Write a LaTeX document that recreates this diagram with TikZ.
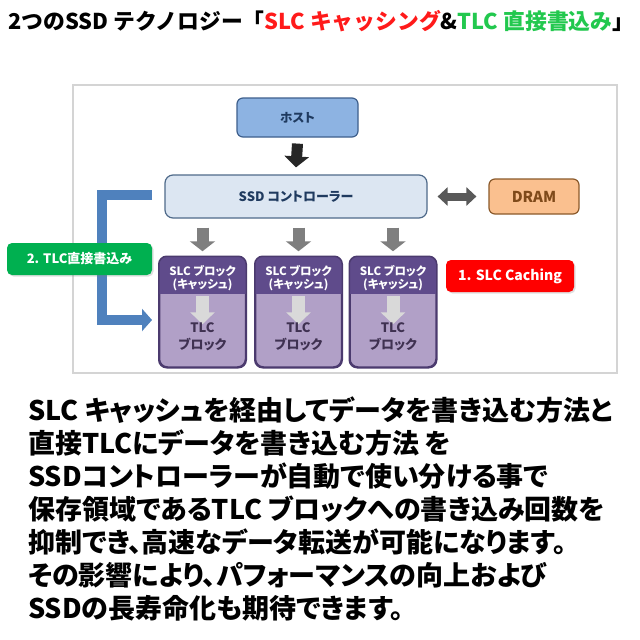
\documentclass[tikz,border=0pt]{standalone}
\usepackage{fontspec}
\newfontfamily\jp{Noto Sans CJK JP}[RawFeature=+palt]
\newfontfamily\jpf{Noto Sans CJK JP}
\usetikzlibrary{arrows.meta,shadows,calc}
\definecolor{hostfill}{HTML}{8DB3E2}
\definecolor{hostline}{HTML}{3E5F8C}
\definecolor{navytext}{HTML}{1F3A5F}
\definecolor{ssdfill}{HTML}{DCE6F2}
\definecolor{ssdline}{HTML}{4F6A8A}
\definecolor{dramfill}{HTML}{FAC08F}
\definecolor{dramline}{HTML}{8B5A2B}
\definecolor{dramtext}{HTML}{7F4A1A}
\definecolor{arrblack}{HTML}{262626}
\definecolor{arrgray}{HTML}{7F7F7F}
\definecolor{dblgray}{HTML}{595959}
\definecolor{lightarr}{HTML}{D9D9D9}
\definecolor{pdark}{HTML}{5F4B8B}
\definecolor{plight}{HTML}{B1A0C7}
\definecolor{pline}{HTML}{4B3A6E}
\definecolor{ptext}{HTML}{3F3151}
\definecolor{redbox}{HTML}{FF0000}
\definecolor{greenbox}{HTML}{00B050}
\definecolor{blueL}{HTML}{4F81BD}
\definecolor{framegray}{HTML}{D4D4D4}
\definecolor{tred}{HTML}{FF1A1A}
\definecolor{tgreen}{HTML}{22C84E}
\tikzset{
  box/.style={draw, line width=1.2pt, rounded corners=6pt, inner sep=0pt, align=center},
  hostbox/.style={box, fill=hostfill, draw=hostline, minimum width=121pt, minimum height=39pt,
    text=navytext, font=\jp\bfseries\fontsize{12.5}{14}\selectfont},
  ssdbox/.style={box, rounded corners=8pt, fill=ssdfill, draw=ssdline, minimum width=262pt, minimum height=43pt,
    text=navytext, font=\jp\bfseries\fontsize{13}{14}\selectfont},
  drambox/.style={box, fill=dramfill, draw=dramline, minimum width=90pt, minimum height=35pt,
    text=dramtext, font=\jp\bfseries\fontsize{15}{17}\selectfont},
  blk/.style={draw=pline, line width=1.5pt, fill=plight, rounded corners=8pt, minimum width=86pt, minimum height=110pt, inner sep=0pt},
  slctext/.style={align=center, text=white, inner sep=0pt, font=\jp\bfseries\fontsize{11.5}{13}\selectfont},
  tlctext/.style={align=center, text=ptext, inner sep=0pt, font=\jp\bfseries\fontsize{13}{17}\selectfont},
  labelbox/.style={rounded corners=5pt, inner sep=0pt, text=white, drop shadow={opacity=0.25, shadow xshift=1.5pt, shadow yshift=-1.5pt}},
  redlabel/.style={labelbox, fill=redbox, minimum width=128pt, minimum height=32pt, font=\jp\bfseries\fontsize{14}{16}\selectfont},
  greenlabel/.style={labelbox, fill=greenbox, minimum width=145pt, minimum height=32pt, font=\jp\bfseries\fontsize{13}{14}\selectfont},
  darrow/.style={draw=arrblack, line width=11pt, -{Triangle[width=24pt,length=11pt]}},
  garrow/.style={draw=arrgray, line width=12pt, -{Triangle[width=25pt,length=10pt]}},
  larrow/.style={draw=lightarr, line width=13pt, -{Triangle[width=24pt,length=12pt]}},
  dblarrow/.style={draw=dblgray, line width=8pt, {Triangle[width=18pt,length=10pt]}-{Triangle[width=18pt,length=10pt]}},
  bluearrow/.style={draw=blueL, line width=10pt, line join=miter, -{Triangle[width=22pt,length=10pt]}},
  bodytext/.style={anchor=base west, inner sep=0pt, font=\jp\bfseries\fontsize{27}{33}\selectfont},
}
\begin{document}
\begin{tikzpicture}[x=1pt,y=-1pt]
\useasboundingbox[fill=white] (0,0) rectangle (640,640);
% title
\node[anchor=base west, inner sep=0pt, font=\jpf\bfseries\fontsize{21.8}{26}\selectfont] (title) at (8,29)
  {2つのSSD テクノロジー「\textcolor{tred}{SLC キャッシング}\&\textcolor{tgreen}{TLC 直接書込み}」};
% frame
\draw[framegray, line width=1.5pt] (73,85) rectangle (617,373);
% nodes
\node[hostbox] (host) at (297.5,117.5) {ホスト};
\node[ssdbox] (ssd) at (296,196.5) {SSD コントローラー};
\node[drambox] (dram) at (534,196.5) {DRAM};
\foreach \n/\x in {b1/202.5, b2/298.5, b3/393}{
  \node[blk] (\n) at (\x,312) {};
  \begin{scope}
    \clip[rounded corners=8pt] (\n.north west) rectangle (\n.south east);
    \fill[pdark] (\n.north west) rectangle ($(\n.north east)+(0,38)$);
  \end{scope}
  \draw[pline, line width=1.5pt, rounded corners=8pt] (\n.north west) rectangle (\n.south east);
  \draw[larrow] ($(\n.north)+(0,40)$) -- ($(\n.north)+(0,68)$);
  \node[slctext] (\n s) at ($(\n.north)+(0,21.5)$) {SLC ブロック\\(キャッシュ)};
  \node[tlctext] (\n t) at ($(\n.north)+(0,80)$) {TLC\\ブロック};
}
\node[redlabel] (red) at (510,276) {1. SLC Caching};
% connectors
\draw[darrow] ([yshift=-6pt]host.south) -- ([yshift=7pt]ssd.north);
\draw[dblarrow] ([xshift=10pt]ssd.east) -- ([xshift=-12pt]dram.west);
\foreach \n in {b1,b2,b3}{
  \draw[garrow] ([yshift=-9pt]ssd.south -| \n.north) -- ([yshift=5pt]\n.north);
}
\coordinate (bstart) at (152,195);
\coordinate (bcorner) at (102,195);
\coordinate (bend) at (152,320);
\draw[bluearrow] (bstart) -- (bcorner) |- (bend);
\node[greenlabel] (green) at (79.5,259) {2. TLC直接書込み};
% body text
\node[bodytext] (p1) at (28,420) {SLC キャッシュを経由してデータを書き込む方法と};
\node[bodytext] (p2) at (28,453) {直接TLCにデータを書き込む方法 を};
\node[bodytext] (p3) at (28,486) {SSDコントローラーが自動で使い分ける事で};
\node[bodytext] (p4) at (28,519) {保存領域であるTLC ブロックへの書き込み回数を};
\node[bodytext] (p5) at (28,552) {抑制でき、高速なデータ転送が可能になります。};
\node[bodytext] (p6) at (28,585) {その影響により、パフォーマンスの向上および};
\node[bodytext] (p7) at (28,618) {SSDの長寿命化も期待できます。};
\end{tikzpicture}
\end{document}
